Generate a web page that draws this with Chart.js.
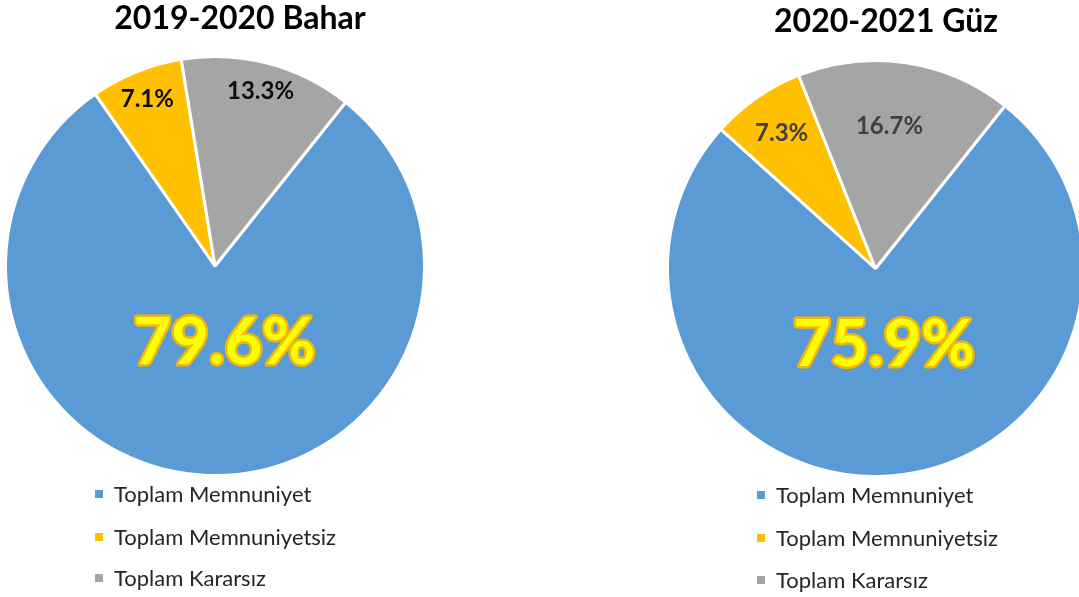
<!DOCTYPE html>
<html>
<head>
<meta charset="utf-8">
<script src="https://cdn.jsdelivr.net/npm/chart.js@4.4.1/dist/chart.umd.min.js"></script>
<style>
  html, body { margin: 0; padding: 0; background: #ffffff; }
  body { width: 1079px; height: 597px; overflow: hidden; position: relative; }
  .box { position: absolute; top: 0; height: 597px; }
</style>
</head>
<body>
<div class="box" id="boxA" style="left:0px;width:450px;"><canvas id="chartA"></canvas></div>
<div class="box" id="boxB" style="left:640px;width:460px;"><canvas id="chartB"></canvas></div>
<script>
// ---- data ----
const categories = ['Toplam Memnuniyet', 'Toplam Memnuniyetsiz', 'Toplam Kararsız'];
const bahar20192020 = [79.6, 7.1, 13.3];
const guz20202021 = [75.9, 7.3, 16.7];
const chartTitles = ['2019-2020 Bahar', '2020-2021 Güz'];

// ---- styles ----
const sliceColors = ['#5B9BD5', '#FFC000', '#A5A5A5'];
const FONT = 'Lato, "Open Sans", sans-serif';

const overlayPlugin = {
  id: 'overlay',
  afterDatasetsDraw(chart) {
    const cfg = chart.options.plugins.overlay;
    const ctx = chart.ctx;
    const meta = chart.getDatasetMeta(0);
    const values = chart.data.datasets[0].data;
    ctx.save();
    ctx.textAlign = 'center';
    ctx.textBaseline = 'middle';
    meta.data.forEach((arc, i) => {
      const p = arc.getProps(['x', 'y', 'startAngle', 'endAngle', 'outerRadius'], true);
      const mid = (p.startAngle + p.endAngle) / 2;
      const d = p.outerRadius * cfg.fracs[i];
      const x = p.x + Math.cos(mid) * d + cfg.dx[i];
      const y = p.y + Math.sin(mid) * d + cfg.dy[i];
      const txt = values[i].toFixed(1) + '%';
      if (i === 0) {
        ctx.font = 'bold 65px ' + FONT;
        ctx.lineJoin = 'round';
        ctx.lineWidth = 5;
        ctx.strokeStyle = '#F5B800';
        ctx.strokeText(txt, x, y);
        ctx.fillStyle = '#FFFF00';
        ctx.fillText(txt, x, y);
      } else {
        ctx.font = 'bold 24px ' + FONT;
        ctx.fillStyle = cfg.labelColor;
        ctx.fillText(txt, x, y);
      }
    });
    ctx.restore();
  },
  afterDraw(chart) {
    const cfg = chart.options.plugins.overlay;
    const ctx = chart.ctx;
    ctx.save();
    // title
    ctx.textAlign = 'center';
    ctx.textBaseline = 'middle';
    ctx.font = 'bold 32px ' + FONT;
    ctx.fillStyle = '#000000';
    ctx.fillText(cfg.title, cfg.titleX, cfg.titleY);
    // legend
    ctx.textAlign = 'left';
    ctx.font = '22px ' + FONT;
    chart.data.labels.forEach((lab, i) => {
      const y = cfg.legendY[i];
      ctx.fillStyle = sliceColors[i];
      ctx.fillRect(cfg.markerX, y - 4, 8, 8);
      ctx.fillStyle = '#262626';
      ctx.fillText(lab, cfg.textX, y + 1);
    });
    ctx.restore();
  }
};

function makePie(id, values, title, opts) {
  return new Chart(document.getElementById(id), {
    type: 'pie',
    data: {
      labels: categories,
      datasets: [{
        data: values,
        backgroundColor: sliceColors,
        borderColor: '#ffffff',
        borderWidth: 3
      }]
    },
    options: {
      responsive: true,
      maintainAspectRatio: false,
      animation: false,
      rotation: opts.rotation,
      layout: { padding: opts.padding },
      plugins: {
        legend: { display: false },
        title: { display: false },
        tooltip: { enabled: false },
        overlay: Object.assign({ title: title }, opts)
      }
    },
    plugins: [overlayPlugin]
  });
}

makePie('chartA', bahar20192020, chartTitles[0], {
  rotation: 38.6,
  padding: { left: 4, top: 55, right: 24, bottom: 120 },
  fracs: [0.37, 0.86, 0.86],
  dx: [12, 0, 0],
  dy: [0, 0, 0],
  labelColor: '#0d0d0d',
  titleX: 240, titleY: 19,
  markerX: 95, textX: 114,
  legendY: [494, 537, 578]
});

makePie('chartB', guz20202021, chartTitles[1], {
  rotation: 38.5,
  padding: { left: 26, top: 59, right: 15, bottom: 119 },
  fracs: [0.37, 0.79, 0.69],
  dx: [2, 0, -7],
  dy: [0, 0, 0],
  labelColor: '#404040',
  titleX: 246, titleY: 22,
  markerX: 117, textX: 136,
  legendY: [495, 538, 580]
});
</script>
</body>
</html>
